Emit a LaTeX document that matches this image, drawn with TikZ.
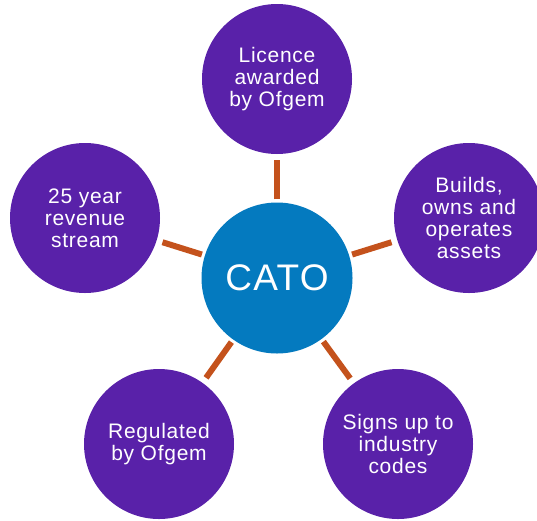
\documentclass[tikz,border=0pt]{standalone}
\usepackage{fontspec}
\setmainfont{Liberation Sans}
\newfontfamily\spacedsans[LetterSpace=3.5]{Liberation Sans}
\definecolor{catopurple}{HTML}{5921A9}
\definecolor{catoblue}{HTML}{047ABF}
\definecolor{catoorange}{HTML}{C4521C}
\begin{document}
\begin{tikzpicture}[x=1pt,y=-1pt,
  outer/.style={circle,fill=catopurple,minimum size=150pt,inner sep=0pt,
    text=white,align=center,font=\spacedsans\fontsize{21}{22}\selectfont},
  hub/.style={circle,fill=catoblue,minimum size=151pt,inner sep=0pt,
    text=white,font=\spacedsans\fontsize{37}{40}\selectfont},
  link/.style={draw=catoorange,line width=6pt,shorten <=3pt,shorten >=6pt}]
\useasboundingbox (0,0) rectangle (537,520);
\node[hub] (c) at (277,278) {CATO};
\node[outer] (t) at (277,79) {Licence\\awarded\\by Ofgem};
\node[outer] (r) at (469,218) {Builds,\\owns and\\operates\\assets};
\node[outer] (br) at (398,444) {Signs up to\\industry\\codes};
\node[outer] (bl) at (159,444) {Regulated\\by Ofgem};
\node[outer] (l) at (85,218) {25 year\\revenue\\stream};
\foreach \n in {t,r,br,bl,l} \draw[link] (c) -- (\n);
\end{tikzpicture}
\end{document}
